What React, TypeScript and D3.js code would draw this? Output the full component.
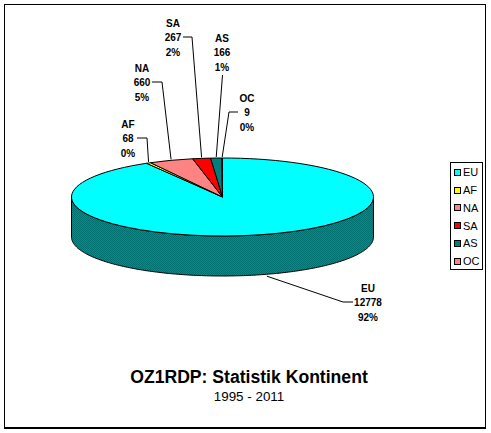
import React from 'react';
import * as d3 from 'd3';

const continents = ['EU', 'AF', 'NA', 'SA', 'AS', 'OC'];
const counts = [12778, 68, 660, 267, 166, 9];
const percents = ['92%', '0%', '5%', '2%', '1%', '0%'];
const fills = ['#00ffff', '#ffff00', 'url(#pinkDither)', '#ff0000', 'url(#tealDither)', 'url(#pinkDither)'];

const title = 'OZ1RDP: Statistik Kontinent';
const subtitle = '1995 - 2011';

// where each data label sits and how its leader bends
type LabelPos = { x: number; y: number; elbow: [number, number]; end?: [number, number] };
const labelPos: LabelPos[] = [
  { x: 368, y: 288, elbow: [343, 302], end: [353, 302] },
  { x: 128, y: 124, elbow: [147, 138], end: [137, 138] },
  { x: 142, y: 68, elbow: [162, 82], end: [152, 82] },
  { x: 173, y: 23, elbow: [192, 37], end: [183, 37] },
  { x: 222, y: 38, elbow: [222.5, 75] },
  { x: 247, y: 98, elbow: [229, 112], end: [238, 112] },
];

const width = 491;
const height = 433;
const cx = 222.5;
const cy = 197;
const rx = 151;
const ry = 39;
const depth = 40;

const App: React.FC = () => {
  const pie = d3.pie<number>().sort(null).startAngle(0).endAngle(2 * Math.PI);
  const slices = pie(counts);
  const arc = d3.arc<d3.PieArcDatum<number>>().innerRadius(0).outerRadius(rx);

  // front of the cylinder, left to right along the lower half of the ellipse
  const wall = d3
    .area<number>()
    .x((a) => cx + rx * Math.cos(a))
    .y0((a) => cy + ry * Math.sin(a))
    .y1((a) => cy + depth + ry * Math.sin(a));
  const wallAngles = d3.range(0, 181).map((d) => (d * Math.PI) / 180);

  const legendY = d3.scalePoint<string>().domain(continents).range([172.5, 261]);

  const leaders = slices.map((s, i) => {
    const mid = (s.startAngle + s.endAngle) / 2;
    const px = cx + rx * Math.sin(mid);
    const py = cy - ry * Math.cos(mid);
    // labels in the front half hook onto the wall's lower edge
    const start: [number, number] = Math.cos(mid) < 0 ? [px + 5, py + depth + 1.5] : [px, py - 1];
    const pts: [number, number][] = [start, labelPos[i].elbow];
    if (labelPos[i].end) pts.push(labelPos[i].end as [number, number]);
    return d3.line()(pts) as string;
  });

  return (
    <svg
      width={width}
      height={height}
      viewBox={`0 0 ${width} ${height}`}
      style={{ position: 'absolute', left: 0, top: 0, background: '#fff' }}
      fontFamily="'Liberation Sans', Arial, sans-serif"
    >
      <defs>
        <pattern id="tealDither" width={2} height={2} patternUnits="userSpaceOnUse">
          <rect width={2} height={2} fill="#008c8c" />
          <rect width={1} height={1} fill="#007272" />
          <rect x={1} y={1} width={1} height={1} fill="#007272" />
        </pattern>
        <pattern id="pinkDither" width={2} height={2} patternUnits="userSpaceOnUse">
          <rect width={2} height={2} fill="#ff9c9c" />
          <rect width={1} height={1} fill="#ff6a6a" />
          <rect x={1} y={1} width={1} height={1} fill="#ff6a6a" />
        </pattern>
      </defs>

      <rect x={4.5} y={4.5} width={481} height={423.5} fill="none" stroke="#000" strokeWidth={1.5} shapeRendering="crispEdges" />

      <path d={wall(wallAngles) as string} fill="url(#tealDither)" stroke="#000" strokeWidth={1} />

      <g transform={`translate(${cx},${cy}) scale(1,${ry / rx})`}>
        {slices.map((s, i) => (
          <path
            key={continents[i]}
            d={arc(s) as string}
            fill={fills[i]}
            stroke="#000"
            strokeWidth={1}
            vectorEffect="non-scaling-stroke"
          />
        ))}
      </g>

      {leaders.map((d, i) => (
        <path key={continents[i]} d={d} fill="none" stroke="#000" strokeWidth={1} />
      ))}

      <g fontSize={10} fontWeight="bold" textAnchor="middle" fill="#000">
        {continents.map((c, i) => (
          <g key={c} transform={`translate(${labelPos[i].x},${labelPos[i].y})`}>
            <text dy="0.35em">{c}</text>
            <text y={14.5} dy="0.35em">{counts[i]}</text>
            <text y={29} dy="0.35em">{percents[i]}</text>
          </g>
        ))}
      </g>

      <rect x={450.5} y={162.5} width={32} height={106.5} fill="#fff" stroke="#000" strokeWidth={1} shapeRendering="crispEdges" />
      {continents.map((c, i) => (
        <g key={c} transform={`translate(454.5,${legendY(c)})`}>
          <rect x={0} y={-3} width={6} height={6} fill={fills[i]} stroke="#000" strokeWidth={1} shapeRendering="crispEdges" />
          <text x={8.5} dy="0.36em" fontSize={11} fill="#000">{c}</text>
        </g>
      ))}

      <text x={249} y={377} dy="0.35em" textAnchor="middle" fontSize={17.6} fontWeight="bold" fill="#000">{title}</text>
      <text x={249} y={396} dy="0.35em" textAnchor="middle" fontSize={13.4} fill="#000">{subtitle}</text>
    </svg>
  );
};

export default App;
